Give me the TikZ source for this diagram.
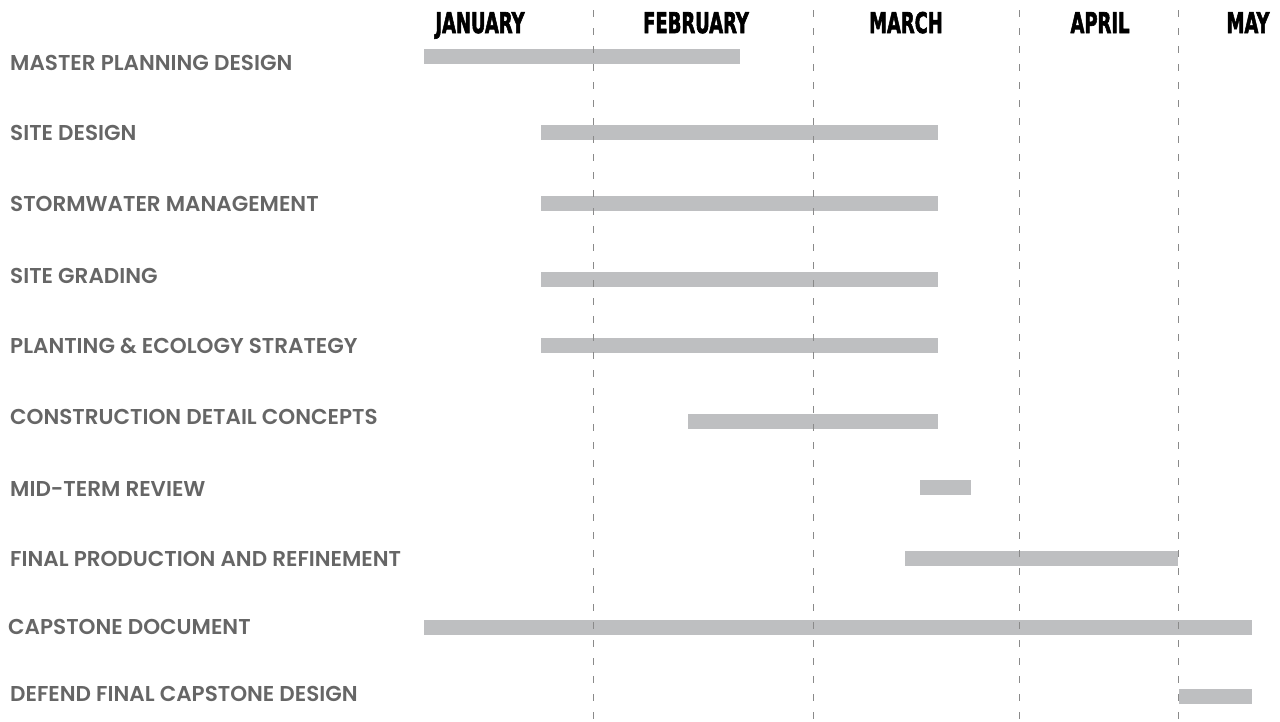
\documentclass[tikz,border=0pt]{standalone}
\usepackage{fontspec}
\newfontfamily\rowfont{Poppins}[BoldFont={Poppins SemiBold}]
\newfontfamily\monthfont{DejaVu Sans Condensed Bold}[FakeBold=2.5]
\definecolor{bargray}{HTML}{BEBFC1}
\definecolor{labelgray}{HTML}{666666}
\definecolor{linegray}{HTML}{8A8A8A}
\newcommand{\mname}[1]{\scalebox{0.7}[1]{#1}}
\tikzset{
  task/.style={anchor=west, inner sep=0pt, text=labelgray, font=\rowfont\bfseries\fontsize{21.5}{21.5}\selectfont},
  month/.style={anchor=base, inner sep=0pt, font=\monthfont\fontsize{28.5}{28.5}\selectfont},
  bar/.style={fill=bargray},
  divider/.style={linegray, line width=0.9pt, dash pattern=on 7pt off 11pt}
}
\begin{document}
\begin{tikzpicture}[x=1pt, y=-1pt]
    \useasboundingbox (0,0) rectangle (1280,721);
    % months
    \node[month] (jan) at (480,33) {\mname{JANUARY}};
    \node[month] (feb) at (696,33) {\mname{FEBRUARY}};
    \node[month] (mar) at (906,33) {\mname{MARCH}};
    \node[month] (apr) at (1100,33) {\mname{APRIL}};
    \node[month] (may) at (1248,33) {\mname{MAY}};
    % tasks
    \node[task] (master) at (10,63) {MASTER PLANNING DESIGN};
    \node[task] (site) at (10,133) {SITE DESIGN};
    \node[task] (storm) at (10,204) {STORMWATER MANAGEMENT};
    \node[task] (grading) at (10,276) {SITE GRADING};
    \node[task] (planting) at (10,346) {PLANTING \& ECOLOGY STRATEGY};
    \node[task] (detail) at (10,417) {CONSTRUCTION DETAIL CONCEPTS};
    \node[task] (review) at (10,489) {MID-TERM REVIEW};
    \node[task] (final) at (10,559) {FINAL PRODUCTION AND REFINEMENT};
    \node[task] (doc) at (8,627) {CAPSTONE DOCUMENT};
    \node[task] (defend) at (10,694) {DEFEND FINAL CAPSTONE DESIGN};
    % bars: start, end, top
    \foreach \a/\b/\t in {424/740/49, 541/938/125, 541/938/196, 541/938/272,
        541/938/338, 688/938/414, 920/971/480, 905/1178/551, 424/1252/620,
        1179/1252/689}
        \fill[bar] (\a,\t) rectangle (\b,\t+15);
    % month dividers
    \foreach \x in {593,813,1019,1178}
        \draw[divider] (\x,10)--(\x,721);
\end{tikzpicture}
\end{document}
